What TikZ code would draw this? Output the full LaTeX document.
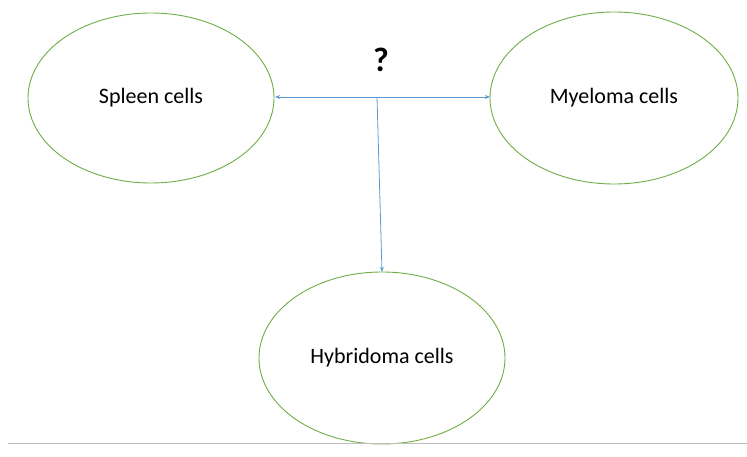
\documentclass[tikz,border=0pt]{standalone}
\usepackage{fontspec}
\setmainfont{Carlito}
\usetikzlibrary{arrows.meta}
\begin{document}
\begin{tikzpicture}[x=1pt,y=-1pt,
  lbl/.style={font=\fontsize{22}{24}\selectfont},
  conn/.style={draw={rgb,255:red,91;green,155;blue,213}, line width=0.8pt, -{Stealth[length=5pt,width=4pt]}}]
\useasboundingbox (0,0) rectangle (747,457);
\definecolor{eg}{RGB}{112,173,71}
\draw[eg,line width=0.9pt] (151,98) ellipse (123 and 85);
\draw[eg,line width=0.9pt] (614,98) ellipse (124 and 86);
\draw[eg,line width=0.9pt] (382,358) ellipse (123 and 86);
\node[lbl] (s) at (151,98) {Spleen cells};
\node[lbl] (m) at (614,98) {Myeloma cells};
\node[lbl] (h) at (382,358) {Hybridoma cells};
\node[font=\bfseries\fontsize{34}{36}\selectfont] (q) at (381,60) {?};
\coordinate (sl) at (275,97);
\coordinate (mr) at (490,97);
\coordinate (mid) at (377,97);
\coordinate (ht) at (382,272);
\draw[conn,{Stealth[length=5pt,width=4pt]}-{Stealth[length=5pt,width=4pt]}] (sl) -- (mr);
\draw[conn] (mid) -- (ht);
\coordinate (g1) at (8,443);
\coordinate (g2) at (747,443);
\draw[gray!50,line width=1pt] (g1) -- (g2);
\end{tikzpicture}
\end{document}
